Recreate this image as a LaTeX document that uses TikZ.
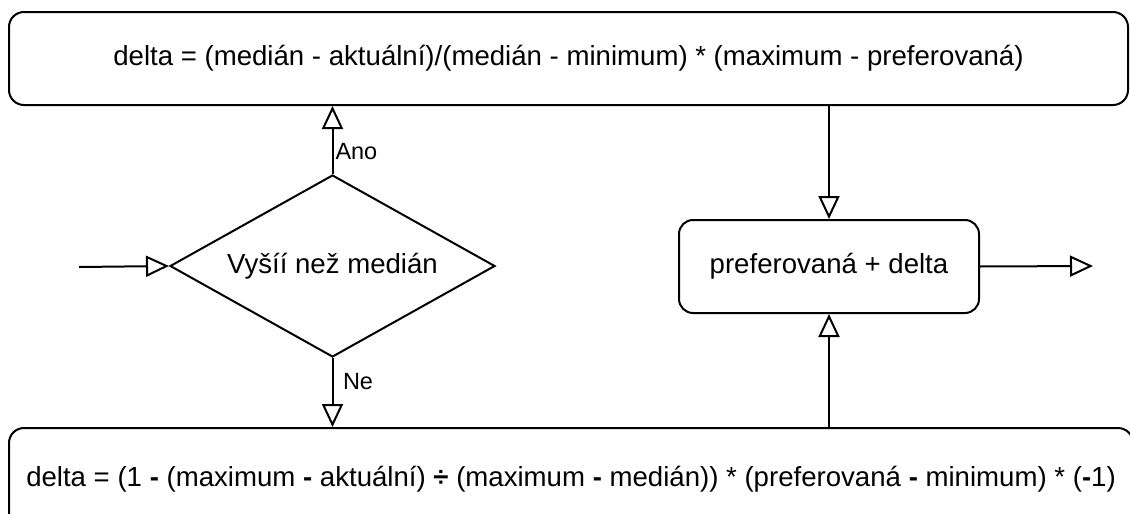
\documentclass[tikz,border=0pt]{standalone}
\usepackage{fontspec}
\setmainfont{Liberation Sans}
\usetikzlibrary{arrows.meta,shapes.geometric}
\begin{document}
\begin{tikzpicture}[x=1pt,y=-1pt,
  line width=2pt,
  box/.style={draw, rounded corners=15pt, inner sep=0pt, font=\fontsize{27.6}{32}\selectfont},
  dec/.style={draw, diamond, aspect=1.786, inner sep=0pt, font=\fontsize{27.6}{32}\selectfont},
  lab/.style={inner sep=0pt, anchor=base west, font=\fontsize{23.5}{28}\selectfont},
  flow/.style={-{Triangle[fill=white,length=23pt,width=21pt]}}]
\useasboundingbox (0,0) rectangle (1130,514);
\clip (0,0) rectangle (1130,514);
\node[box, minimum width=1119pt, minimum height=93pt] (top) at (568.5,58.5)
  {delta = (medián - aktuální)/(medián - minimum) * (maximum - preferovaná)};
\node[box, minimum width=1124pt, minimum height=102pt] (bot) at (571,479)
  {delta = (1 \textbf{-} (maximum \textbf{-} aktuální) \textbf{÷} (maximum \textbf{-} medián)) * (preferovaná \textbf{-} minimum) * (\textbf{-}1)};
\node[box, rounded corners=14pt, minimum width=300pt, minimum height=93pt] (res) at (829,266.5)
  {preferovaná + delta};
\node[dec, minimum width=325pt, minimum height=182pt] (dia) at (332.5,266)
  {Vyšíí než medián};
\coordinate (in) at (79,267);
\coordinate (out) at (1093,266);
\draw[flow] (in) -- (dia.west);
\draw[flow] (dia.north) -- (top.south -| dia.north);
\draw[flow] (dia.south) -- (bot.north -| dia.south);
\draw[flow] (top.south -| res.north) -- (res.north);
\draw[flow] (bot.north -| res.south) -- (res.south);
\draw[flow] (res.east) -- (out);
\node[lab] (ano) at (334.5,159) {Ano};
\node[lab] (ne) at (342,389) {Ne};
\end{tikzpicture}
\end{document}
